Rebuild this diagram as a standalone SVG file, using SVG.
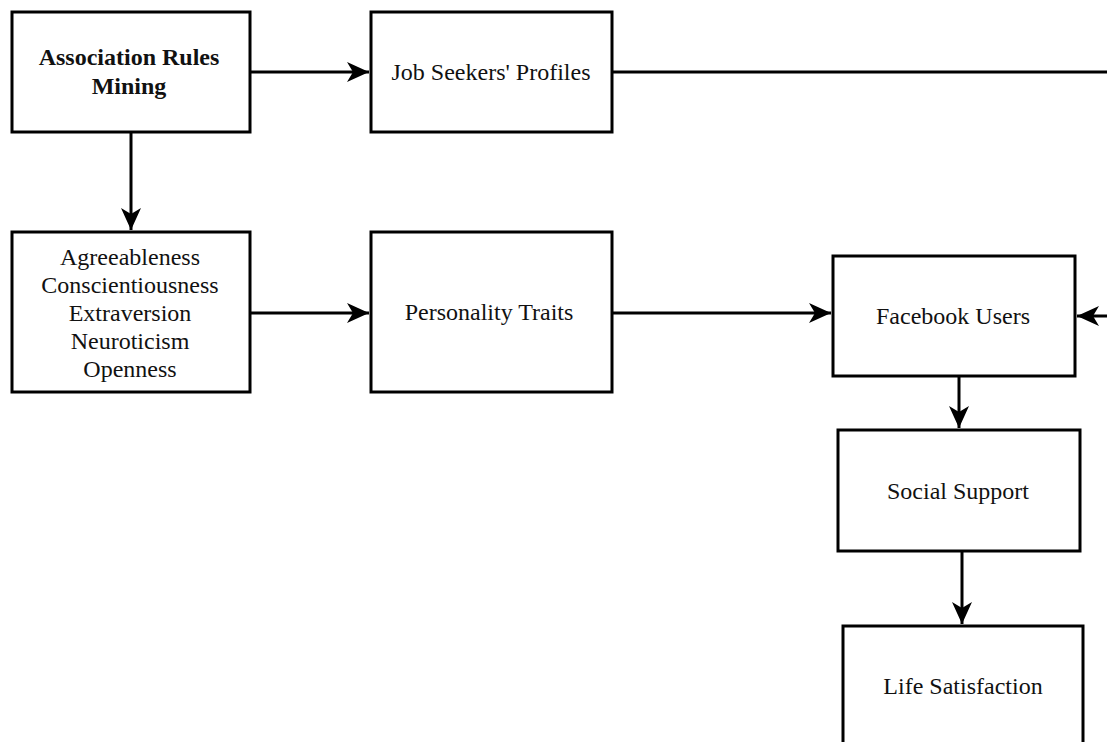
<svg xmlns="http://www.w3.org/2000/svg" width="1107" height="742" viewBox="0 0 1107 742">
<style>
.box{fill:#fff;stroke:#000;stroke-width:3}
.t{font-family:"Liberation Serif","Times New Roman",serif;font-size:24px;fill:#111;text-anchor:middle}
.b{font-weight:bold}
.c{fill:none;stroke:#000;stroke-width:3}
</style>
<defs>
<marker id="ah" markerUnits="userSpaceOnUse" markerWidth="24" markerHeight="22" refX="22" refY="11" orient="auto" viewBox="0 0 24 22">
<path d="M0,1 L22,11 L0,21 L6,11 Z" fill="#000"/>
</marker>
</defs>
<rect width="1107" height="742" fill="#fff"/>
<g id="connectors">
<path class="c" d="M250,72 H369" marker-end="url(#ah)"/>
<path class="c" d="M131,132 V230" marker-end="url(#ah)"/>
<path class="c" d="M612,72 H1125 V316 H1077" marker-end="url(#ah)"/>
<path class="c" d="M250,313 H369" marker-end="url(#ah)"/>
<path class="c" d="M612,313 H831" marker-end="url(#ah)"/>
<path class="c" d="M959,376 V428" marker-end="url(#ah)"/>
<path class="c" d="M962,551 V624" marker-end="url(#ah)"/>
</g>
<g id="n1"><rect class="box" x="12" y="12" width="238" height="120"/>
<text class="t b" x="129" y="65">Association Rules</text><text class="t b" x="129" y="94">Mining</text></g>
<g id="n2"><rect class="box" x="371" y="12" width="241" height="120"/>
<text class="t" x="491" y="80">Job Seekers' Profiles</text></g>
<g id="n3"><rect class="box" x="12" y="232" width="238" height="160"/>
<text class="t" x="130" y="265">Agreeableness</text>
<text class="t" x="130" y="293">Conscientiousness</text>
<text class="t" x="130" y="321">Extraversion</text>
<text class="t" x="130" y="349">Neuroticism</text>
<text class="t" x="130" y="377">Openness</text></g>
<g id="n4"><rect class="box" x="371" y="232" width="241" height="160"/>
<text class="t" x="489" y="320">Personality Traits</text></g>
<g id="n5"><rect class="box" x="833" y="256" width="242" height="120"/>
<text class="t" x="953" y="324">Facebook Users</text></g>
<g id="n6"><rect class="box" x="838" y="430" width="242" height="121"/>
<text class="t" x="958" y="499">Social Support</text></g>
<g id="n7"><rect class="box" x="843" y="626" width="240" height="130"/>
<text class="t" x="963" y="694">Life Satisfaction</text></g>
</svg>
